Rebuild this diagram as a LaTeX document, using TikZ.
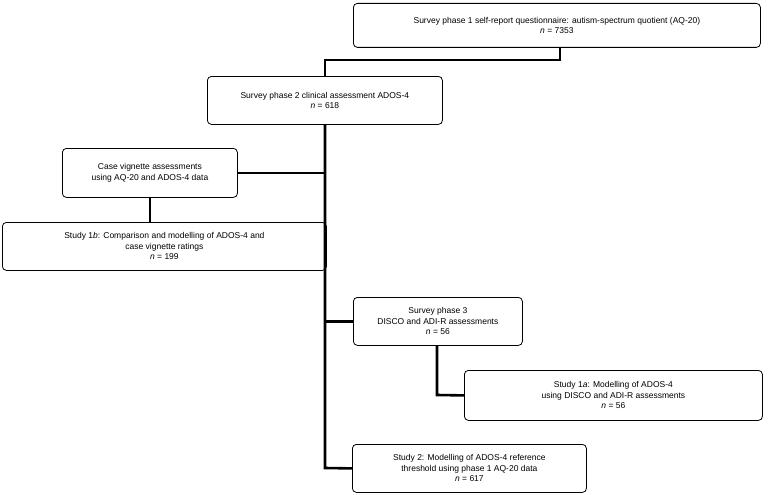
\documentclass[tikz,border=0pt]{standalone}
\usepackage{fontspec}
\setmainfont{Liberation Sans}
\begin{document}
\begin{tikzpicture}[x=1pt,y=-1pt,
  bx/.style={draw,rounded corners=4pt,line width=0.8pt,align=center,font=\fontsize{8.5}{10.5}\selectfont,inner sep=0pt,anchor=north west},
  ln/.style={line width=2.6pt}]
\useasboundingbox (0,0) rectangle (768,495);
\node[bx,minimum width=407pt,minimum height=44pt] (b1) at (353,3) {Survey phase 1 self-report questionnaire: autism-spectrum quotient (AQ-20)\\\textit{n} = 7353};
\node[bx,minimum width=235pt,minimum height=48pt] (b2) at (207,76) {Survey phase 2 clinical assessment ADOS-4\\\textit{n} = 618};
\node[bx,minimum width=175pt,minimum height=49pt] (b3) at (62,148) {Case vignette assessments\\using AQ-20 and ADOS-4 data};
\node[bx,minimum width=324pt,minimum height=48pt] (b4) at (2,222) {Study 1\textit{b}: Comparison and modelling of ADOS-4 and\\case vignette ratings\\\textit{n} = 199};
\node[bx,minimum width=169pt,minimum height=48pt] (b5) at (353,297) {Survey phase 3\\DISCO and ADI-R assessments\\\textit{n} = 56};
\node[bx,minimum width=298pt,minimum height=50pt] (b6) at (464,370) {Study 1\textit{a}: Modelling of ADOS-4\\using DISCO and ADI-R assessments\\\textit{n} = 56};
\node[bx,minimum width=234pt,minimum height=48pt] (b7) at (352,444) {Study 2: Modelling of ADOS-4 reference\\threshold using phase 1 AQ-20 data\\\textit{n} = 617};
\coordinate (t1) at (560,60);
\coordinate (t2) at (325,60);
\coordinate (tr) at (325,468);
\draw[ln] (b1.south -| t1) -- (t1) -- (t2) -- (b2.north -| t2);
\draw[ln] (b2.south -| tr) -- (tr) -- (b7.west);
\draw[ln] (b3.east) -- (b3.east -| tr);
\draw[ln] (b3.south -| 150,0) -- (b4.north -| 150,0);
\draw[ln] (b5.west -| tr) -- (b5.west);
\coordinate (c5) at (437,395);
\draw[ln] (b5.south -| c5) -- (c5) -- (b6.west);
\end{tikzpicture}
\end{document}
